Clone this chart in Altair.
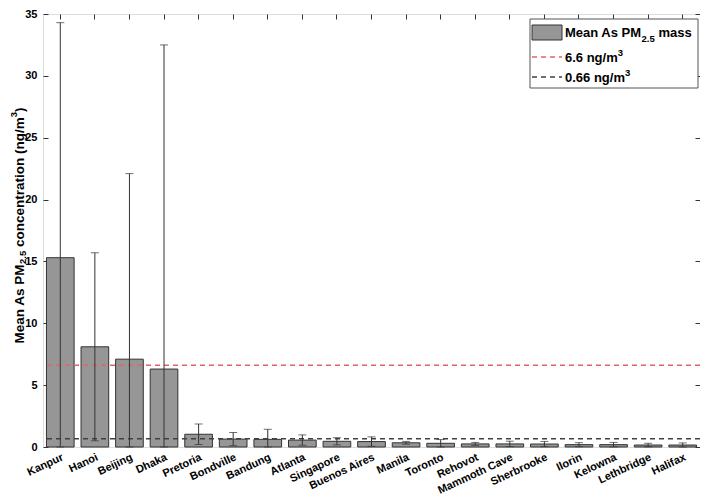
import altair as alt
import pandas as pd

cities = ["Kanpur", "Hanoi", "Beijing", "Dhaka", "Pretoria", "Bondville", "Bandung",
          "Atlanta", "Singapore", "Buenos Aires", "Manila", "Toronto", "Rehovot",
          "Mammoth Cave", "Sherbrooke", "Ilorin", "Kelowna", "Lethbridge", "Halifax"]
means = [15.3, 8.1, 7.1, 6.3, 1.03, 0.64, 0.62, 0.56, 0.46, 0.44, 0.34, 0.30, 0.25,
         0.25, 0.24, 0.19, 0.19, 0.16, 0.16]
uppers = [34.3, 15.7, 22.1, 32.5, 1.86, 1.17, 1.43, 0.98, 0.75, 0.82, 0.45, 0.60, 0.37,
          0.47, 0.45, 0.35, 0.37, 0.30, 0.33]

threshold_values = [6.6, 0.66]
threshold_names = ["6.6 ng/m3", "0.66 ng/m3"]
threshold_colors = ["#e06666", "#404040"]
y_ticks = [0, 5, 10, 15, 20, 25, 30, 35]

# rich-text pieces: (text, kind) kind: n = normal, sub = subscript, sup = superscript
title_pieces = [("Mean As PM", "n"), ("2.5", "sub"), (" concentration (ng/m", "n"), ("3", "sup"), (")", "n")]
legend_rows = [
    [("Mean As PM", "n"), ("2.5", "sub"), (" mass", "n")],
    [("6.6 ng/m", "n"), ("3", "sup")],
    [("0.66 ng/m", "n"), ("3", "sup")],
]

FONT = "Liberation Sans, Arial, DejaVu Sans, sans-serif"

# Arial/Liberation Sans Bold advance widths (per 1000 em)
W = {"M": 833, "e": 556, "a": 556, "n": 611, " ": 278, "A": 722, "s": 556, "P": 667,
     "c": 556, "o": 611, "t": 333, "r": 389, "i": 278, "(": 333, "g": 611, "/": 278,
     "m": 889, ")": 333, "0": 556, "2": 556, ".": 278, "5": 556, "3": 556, "6": 556}

def twidth(s, size):
    return sum(W.get(ch, 556) for ch in s) * size / 1000.0

sd = [u - m for u, m in zip(uppers, means)]
lowers = [max(m - s, 0.0) for m, s in zip(means, sd)]
df = pd.DataFrame({"city": cities, "mean": means, "upper": uppers, "lower": lowers})
thr = pd.DataFrame({"value": threshold_values, "name": threshold_names})

xscale = alt.Scale(domain=cities, paddingInner=0.2, paddingOuter=0.1)
yscale = alt.Scale(domain=[0, 35], nice=False)

tick_axis = dict(labels=False, domain=False, ticks=True, tickSize=5, offset=-5,
                 tickColor="#333333", title=None, grid=False)

bars = alt.Chart(df).mark_bar(fill="#969696", stroke="#333333", strokeWidth=1).encode(
    x=alt.X("city:N", scale=xscale, sort=cities,
            axis=alt.Axis(orient="bottom", title=None, ticks=False, domain=False,
                          labelAngle=335, labelAlign="right", labelBaseline="top",
                          labelPadding=4, labelFontSize=11, labelFontWeight="bold",
                          labelFont=FONT, labelColor="#000000")),
    y=alt.Y("mean:Q", scale=yscale,
            axis=alt.Axis(orient="left", title=None, ticks=False, domain=False,
                          values=y_ticks, labelPadding=6, labelFontSize=11,
                          labelFontWeight="bold", labelFont=FONT, labelColor="#000000",
                          grid=False)),
)

whisk = alt.Chart(df).mark_rule(color="#333333", strokeWidth=1).encode(
    x=alt.X("city:N", scale=xscale, sort=cities, axis=alt.Axis(orient="top", **tick_axis)),
    y=alt.Y("lower:Q", scale=yscale, axis=alt.Axis(orient="right", values=y_ticks, **tick_axis)),
    y2="upper:Q",
)

cap_up = alt.Chart(df).mark_tick(color="#333333", thickness=1, size=8, orient="horizontal").encode(
    x=alt.X("city:N", scale=xscale, sort=cities, axis=None),
    y=alt.Y("upper:Q", scale=yscale, axis=alt.Axis(orient="left", values=y_ticks, **tick_axis)),
)
cap_low = alt.Chart(df).mark_tick(color="#333333", thickness=1, size=8, orient="horizontal").encode(
    x=alt.X("city:N", scale=xscale, sort=cities, axis=None),
    y=alt.Y("lower:Q", scale=yscale, axis=None),
)

thr_lines = alt.Chart(thr).mark_rule(strokeDash=[5, 4], strokeWidth=1.5).encode(
    y=alt.Y("value:Q", scale=yscale, axis=None),
    color=alt.Color("name:N", scale=alt.Scale(domain=threshold_names, range=threshold_colors),
                    legend=None),
)

one = pd.DataFrame({"a": [0]})

def piece(txt, x, y, size, angle=0):
    kw = dict(text=txt, align="left", baseline="alphabetic", font=FONT, fontSize=size,
              fontWeight="bold", color="#000000")
    if angle:
        kw["angle"] = angle
    return alt.Chart(one).mark_text(**kw).encode(x=alt.value(x), y=alt.value(y))

layers = [bars, thr_lines, whisk, cap_up, cap_low]

# legend box and symbols
layers.append(alt.Chart(one).mark_rect(fill="white", stroke="#555555", strokeWidth=1).encode(
    x=alt.value(487), x2=alt.value(655), y=alt.value(5), y2=alt.value(74)))
layers.append(alt.Chart(one).mark_rect(fill="#969696", stroke="#333333", strokeWidth=1).encode(
    x=alt.value(489), x2=alt.value(519), y=alt.value(11), y2=alt.value(26)))
layers.append(alt.Chart(one).mark_rule(color=threshold_colors[0], strokeDash=[5, 4], strokeWidth=1.5).encode(
    x=alt.value(489), x2=alt.value(519), y=alt.value(43)))
layers.append(alt.Chart(one).mark_rule(color=threshold_colors[1], strokeDash=[5, 4], strokeWidth=1.5).encode(
    x=alt.value(489), x2=alt.value(519), y=alt.value(63)))

def split_lead(txt):
    stripped = txt.lstrip(" ")
    return stripped, len(txt) - len(stripped)

# legend texts
LS, LSS = 13, 9.5
for row, base in zip(legend_rows, [23, 48, 68]):
    x = 522
    for txt, kind in row:
        size = LS if kind == "n" else LSS
        body, nsp = split_lead(txt)
        x += twidth(" " * nsp, size)
        dy = 0 if kind == "n" else (4.5 if kind == "sub" else -6.5)
        layers.append(piece(body, x, base + dy, size))
        x += twidth(body, size)

# rotated y-axis title
TS, TSS = 13.5, 9.5
total = sum(twidth(t, TS if k == "n" else TSS) for t, k in title_pieces)
ypos = 211.5 + total / 2
xb = -19.5
for txt, kind in title_pieces:
    size = TS if kind == "n" else TSS
    body, nsp = split_lead(txt)
    ypos -= twidth(" " * nsp, size)
    xx = xb + (2.5 if kind == "sub" else (-6.5 if kind == "sup" else 0))
    layers.append(piece(body, xx, ypos, size, angle=270))
    ypos -= twidth(body, size)

chart = alt.layer(*layers).resolve_axis(x="independent", y="independent").properties(
    width=657, height=433,
    autosize=alt.AutoSizeParams(type="none"),
    padding={"left": 35, "top": 6, "right": 0, "bottom": 49},
).configure_view(stroke="#888888", strokeWidth=1).configure(background="white")

chart.save("out.html", embed_options={"renderer": "svg", "actions": False})
